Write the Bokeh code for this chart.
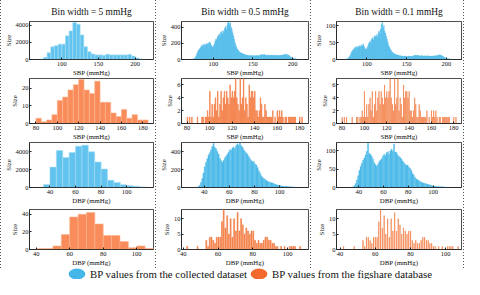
import numpy as np
from bokeh.plotting import figure
from bokeh.layouts import column, row
from bokeh.models import Div, Legend, LegendItem, FixedTicker, Range1d
from bokeh.embed import file_html
from bokeh.resources import INLINE

FONT = "Liberation Serif"

# ---------------- data ----------------
TITLES = ["Bin width = 5 mmHg", "Bin width = 0.5 mmHg", "Bin width = 0.1 mmHg"]
LEGEND_LABELS = ["BP values from the collected dataset", "BP values from the figshare database"]

# collected dataset, 5 mmHg bins
BLUE_SBP_5_START = 70
BLUE_SBP_5 = [30, 250, 800, 1480, 1620, 1800, 1800, 2770, 3350, 4320, 4140, 2880, 1480, 900,
              650, 540, 540, 500, 610, 540, 540, 540, 540, 540, 600, 400, 180, 70, 30]
BLUE_DBP_5_START = 35
BLUE_DBP_5 = [350, 2290, 4140, 3360, 3930, 4640, 4750, 4000, 2860, 2070, 820, 570, 320, 210, 140, 70]

# figshare database, 5 mmHg bins
ORANGE_SBP_5_START = 80
ORANGE_SBP_5 = [3, 1, 2, 5, 13, 15, 19, 22, 25, 19, 17, 24, 12, 12, 6, 4, 8, 3, 5, 2, 2]
ORANGE_DBP_5_START = 40
ORANGE_DBP_5 = [1, 1, 4, 17, 37, 40, 42, 29, 16, 16, 9, 2, 4, 1]

# collected dataset, fine bins (one value per mmHg)
BLUE_SBP_FINE_X = list(range(72, 213))
BLUE_SBP_05 = [2, 4, 6, 10, 16, 28, 45, 70, 95, 115,
               130, 140, 155, 175, 165, 185, 170, 190, 180, 195,
               185, 205, 195, 220, 200, 175, 160, 150, 170, 195,
               230, 255, 245, 280, 300, 315, 290, 335, 345, 320,
               355, 335, 385, 405, 375, 425, 455, 465, 435, 455,
               400, 375, 330, 295, 250, 205, 175, 150, 130, 112,
               100, 92, 85, 80, 75, 70, 66, 63, 60, 56,
               53, 52, 50, 49, 47, 50, 48, 46, 47, 45,
               48, 46, 50, 47, 45, 50, 53, 55, 58, 62,
               57, 59, 63, 56, 52, 53, 56, 51, 53, 50,
               55, 52, 50, 55, 53, 50, 48, 52, 50, 51,
               48, 52, 50, 55, 52, 56, 58, 60, 63, 66,
               62, 58, 55, 50, 40, 32, 25, 20, 15, 12,
               10, 8, 6, 5, 4, 3, 2, 2, 1, 1, 1]
BLUE_SBP_01 = [0, 1, 1, 2, 3, 6, 9, 14, 20, 24,
               27, 30, 33, 37, 32, 38, 35, 40, 36, 41,
               37, 43, 39, 46, 40, 35, 31, 30, 35, 40,
               47, 52, 49, 57, 61, 64, 58, 68, 70, 65,
               73, 68, 79, 84, 76, 90, 103, 110, 92, 100,
               84, 78, 68, 60, 51, 42, 36, 31, 27, 23,
               21, 19, 17, 16, 15, 14, 13, 13, 12, 11,
               11, 10, 10, 10, 9, 10, 10, 9, 9, 9,
               10, 9, 10, 9, 9, 10, 11, 11, 12, 13,
               12, 12, 13, 11, 10, 11, 12, 10, 11, 10,
               11, 10, 10, 11, 11, 10, 10, 10, 10, 10,
               10, 10, 10, 11, 11, 11, 12, 12, 13, 14,
               13, 12, 11, 10, 8, 6, 5, 4, 3, 2,
               2, 2, 1, 1, 1, 1, 0, 0, 0, 0, 0]
BLUE_DBP_FINE_X = list(range(34, 116))
BLUE_DBP_05 = [3, 10, 25, 55, 100, 160, 230, 280, 320, 360,
               385, 420, 455, 490, 445, 430, 400, 370, 325, 300,
               280, 300, 330, 350, 370, 395, 420, 415, 440, 450,
               430, 465, 485, 470, 495, 465, 450, 420, 400, 385,
               370, 345, 320, 300, 285, 290, 262, 250, 222, 185,
               160, 130, 112, 100, 90, 80, 70, 62, 58, 54,
               50, 43, 38, 31, 28, 25, 20, 18, 16, 14,
               13, 12, 10, 9, 8, 7, 6, 5, 4, 3, 2, 1]
BLUE_DBP_01 = [0, 2, 5, 11, 20, 32, 46, 57, 66, 74,
               80, 88, 98, 120, 92, 90, 84, 77, 67, 62,
               58, 63, 70, 74, 78, 85, 90, 86, 94, 97,
               90, 99, 104, 98, 118, 96, 95, 88, 84, 81,
               77, 72, 67, 63, 60, 61, 55, 52, 46, 38,
               33, 27, 23, 21, 19, 17, 15, 13, 12, 11,
               10, 9, 8, 7, 6, 5, 4, 4, 3, 3,
               3, 2, 2, 2, 2, 1, 1, 1, 1, 1, 0, 0]

# figshare database: counts per integer mmHg value
ORANGE_SBP_X = list(range(80, 183))
ORANGE_SBP_N = [1, 0, 1, 0, 1, 0, 0, 0, 0, 1, 0, 0, 0, 1, 1, 0, 1, 1, 2, 1,
                5, 1, 3, 1, 3, 4, 2, 5, 1, 3, 5, 2, 4, 5, 3, 5, 4, 3, 6, 4,
                5, 4, 5, 7, 4, 3, 2, 7, 3, 4, 7, 2, 4, 3, 1, 6, 4, 5, 5, 4,
                5, 2, 2, 1, 2, 4, 3, 1, 1, 3, 2, 1, 1, 1, 1, 1, 2, 0, 1, 0,
                2, 1, 2, 1, 2, 1, 0, 1, 1, 0, 1, 1, 1, 1, 1, 1, 1, 0, 0, 0,
                1, 0, 1]
ORANGE_DBP_X = list(range(40, 108))
ORANGE_DBP_N = [0, 0, 1, 0, 0, 0, 0, 0, 1, 0, 0, 0, 0, 3, 1, 4, 4, 3, 2, 4,
                4, 4, 9, 13, 7, 11, 5, 10, 4, 10, 6, 12, 6, 10, 8, 5, 7, 6, 5, 6,
                6, 3, 2, 3, 2, 2, 3, 4, 4, 3, 3, 2, 2, 1, 1, 0, 1, 0, 1, 0,
                0, 1, 1, 1, 1, 0, 0, 1]

SBP_BLUE_XTICKS = [100, 150, 200]
SBP_ORANGE_XTICKS = [80, 100, 120, 140, 160, 180]
DBP_XTICKS = [40, 60, 80, 100]

# ---------------- style ----------------
BLUE5_FILL, BLUE5_LINE = "#62C4EE", "#A3DCF5"
BLUEF_FILL = "#4DBAE9"
ORANGE5_FILL, ORANGE5_LINE = "#F98C5A", "#FBB690"
ORANGEF_FILL = "#F47A40"
INK = "#222222"

COL_W = [154, 154, 152]
ROW_H = [78, 64, 64, 62]
ROW_TOP = [21, 0, 0, 3]


def style_axis(ax):
    ax.major_label_text_font = FONT
    ax.major_label_text_font_size = "6.5px"
    ax.major_label_text_color = "#111111"
    ax.axis_label_text_font = FONT
    ax.axis_label_text_font_size = "6.8px"
    ax.axis_label_text_font_style = "normal"
    ax.axis_label_text_color = "#111111"
    ax.major_tick_in = 2
    ax.major_tick_out = 0
    ax.minor_tick_line_color = None
    ax.axis_line_color = INK
    ax.axis_line_width = 0.8
    ax.major_tick_line_color = INK
    ax.major_label_standoff = 2
    ax.axis_label_standoff = 0


def make_fig(ci, ri, xr, yr, xticks, yticks, xlabel):
    p = figure(width=COL_W[ci], height=ROW_H[ri], x_range=Range1d(*xr), y_range=Range1d(*yr),
               output_backend="svg", toolbar_location=None,
               min_border_left=24, min_border_right=2, min_border_top=ROW_TOP[ri],
               min_border_bottom=18, title=TITLES[ci] if ri == 0 else None)
    if ri == 0:
        p.title.text_font = FONT
        p.title.text_font_size = "9.4px"
        p.title.text_font_style = "normal"
        p.title.align = "center"
        p.title.text_color = "#111111"
        p.title.standoff = 9
    p.xgrid.visible = False
    p.ygrid.visible = False
    p.outline_line_color = INK
    p.outline_line_width = 0.8
    p.background_fill_color = "white"
    p.border_fill_color = "white"
    style_axis(p.xaxis[0])
    style_axis(p.yaxis[0])
    p.xaxis.ticker = FixedTicker(ticks=xticks)
    p.yaxis.ticker = FixedTicker(ticks=yticks)
    p.xaxis.axis_label = xlabel
    p.yaxis.axis_label = "Size"
    p.yaxis.major_label_standoff = 1
    p.yaxis.axis_label_standoff = 1
    return p


def hist5(p, start, counts, fill, line):
    lefts = start + 5 * np.arange(len(counts))
    p.quad(left=lefts, right=lefts + 5, bottom=0, top=counts,
           fill_color=fill, line_color=line, line_width=0.6)


def hist_fine(p, xs, counts, fill):
    xs = np.asarray(xs, dtype=float)
    p.quad(left=xs, right=xs + 1, bottom=0, top=counts,
           fill_color=fill, line_color=fill, line_width=0.3)


def bars_int(p, xs, counts, bw, fill):
    xs = np.asarray(xs, dtype=float)
    p.quad(left=xs, right=xs + bw, bottom=0, top=counts,
           fill_color=fill, line_color=fill, line_width=0.6)


cols = []
# column 1: 5 mmHg bins
f = make_fig(0, 0, (56, 225), (0, 4450), SBP_BLUE_XTICKS, [0, 2000, 4000], "SBP (mmHg)")
hist5(f, BLUE_SBP_5_START, BLUE_SBP_5, BLUE5_FILL, BLUE5_LINE)
g = make_fig(0, 1, (74, 190), (0, 25.5), SBP_ORANGE_XTICKS, [0, 10, 20], "SBP (mmHg)")
hist5(g, ORANGE_SBP_5_START, ORANGE_SBP_5, ORANGE5_FILL, ORANGE5_LINE)
h = make_fig(0, 2, (24, 121), (0, 5050), DBP_XTICKS, [0, 2000, 4000], "DBP (mmHg)")
hist5(h, BLUE_DBP_5_START, BLUE_DBP_5, BLUE5_FILL, BLUE5_LINE)
k = make_fig(0, 3, (36, 110), (0, 45.5), DBP_XTICKS, [0, 20, 40], "DBP (mmHg)")
hist5(k, ORANGE_DBP_5_START, ORANGE_DBP_5, ORANGE5_FILL, ORANGE5_LINE)
cols.append(column(f, g, h, k, spacing=0))

# column 2: 0.5 mmHg bins
f = make_fig(1, 0, (60, 220), (0, 470), SBP_BLUE_XTICKS, [0, 200, 400], "SBP (mmHg)")
hist_fine(f, BLUE_SBP_FINE_X, BLUE_SBP_05, BLUEF_FILL)
g = make_fig(1, 1, (75, 188), (0, 7), SBP_ORANGE_XTICKS, [0, 2, 4, 6], "SBP (mmHg)")
bars_int(g, ORANGE_SBP_X, ORANGE_SBP_N, 0.5, ORANGEF_FILL)
h = make_fig(1, 2, (22, 123), (0, 500), DBP_XTICKS, [0, 200, 400], "DBP (mmHg)")
hist_fine(h, BLUE_DBP_FINE_X, BLUE_DBP_05, BLUEF_FILL)
k = make_fig(1, 3, (39, 112), (0, 13), DBP_XTICKS, [0, 5, 10], "DBP (mmHg)")
bars_int(k, ORANGE_DBP_X, ORANGE_DBP_N, 0.5, ORANGEF_FILL)
cols.append(column(f, g, h, k, spacing=0))

# column 3: 0.1 mmHg bins
f = make_fig(2, 0, (62, 219), (0, 112), SBP_BLUE_XTICKS, [0, 50, 100], "SBP (mmHg)")
hist_fine(f, BLUE_SBP_FINE_X, BLUE_SBP_01, BLUEF_FILL)
g = make_fig(2, 1, (75, 187), (0, 7), SBP_ORANGE_XTICKS, [0, 2, 4, 6], "SBP (mmHg)")
bars_int(g, ORANGE_SBP_X, ORANGE_SBP_N, 0.1, ORANGEF_FILL)
h = make_fig(2, 2, (22, 123), (0, 122), DBP_XTICKS, [0, 50, 100], "DBP (mmHg)")
hist_fine(h, BLUE_DBP_FINE_X, BLUE_DBP_01, BLUEF_FILL)
k = make_fig(2, 3, (38, 109), (0, 13), DBP_XTICKS, [0, 5, 10], "DBP (mmHg)")
bars_int(k, ORANGE_DBP_X, ORANGE_DBP_N, 0.1, ORANGEF_FILL)
cols.append(column(f, g, h, k, spacing=0))

GRID_H = sum(ROW_H)
DOT = {"background-image": "linear-gradient(to bottom, #555555 50%, rgba(255,255,255,0) 50%)",
       "background-size": "1px 3px", "background-repeat": "repeat-y"}


def vline():
    return Div(text="", width=1, height=GRID_H, margin=0, styles=DOT)


grid = row(vline(), cols[0], vline(), cols[1], vline(), cols[2], vline(), spacing=0)

# legend strip
lg = figure(width=464, height=11, x_range=(0, 1), y_range=(0, 1), output_backend="svg",
            toolbar_location=None, min_border=0, x_axis_type=None, y_axis_type=None)
lg.grid.visible = False
lg.outline_line_color = None
r1 = lg.ellipse(x=[5], y=[5], width=17, height=11, width_units="screen", height_units="screen",
                fill_color="#45B6E8", line_color=None)
r2 = lg.ellipse(x=[5], y=[5], width=17, height=11, width_units="screen", height_units="screen",
                fill_color="#F3692E", line_color=None)
leg = Legend(items=[LegendItem(label=LEGEND_LABELS[0], renderers=[r1]),
                    LegendItem(label=LEGEND_LABELS[1], renderers=[r2])],
             orientation="horizontal", location=(66, -5), glyph_width=21, glyph_height=21,
             label_standoff=3, spacing=1, padding=0, margin=0,
             border_line_color=None, background_fill_alpha=0,
             label_text_font=FONT, label_text_font_size="10.8px", label_text_color="#111111")
lg.add_layout(leg, "center")

page = column(grid, lg, spacing=0)

open("out.html", "w").write(file_html(page, INLINE))
